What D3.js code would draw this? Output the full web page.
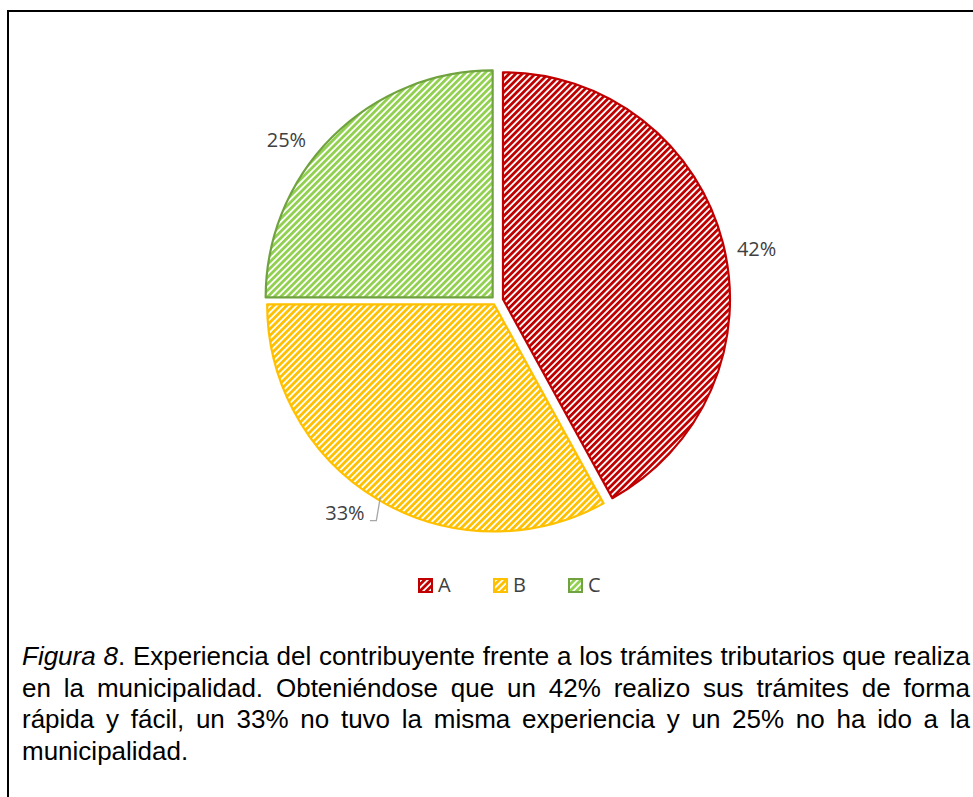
<!DOCTYPE html>
<html>
<head>
<meta charset="utf-8">
<script src="https://cdn.jsdelivr.net/npm/d3@7"></script>
<style>
  body { margin: 0; background: #fff; }
  svg { display: block; }
</style>
</head>
<body>
<script>
// chart data
var categories = ["A", "B", "C"];
var values = [42, 33, 25];
var labels = ["42%", "33%", "25%"];
var caption = [
  "Figura 8. Experiencia del contribuyente frente a los trámites tributarios que realiza",
  "en la municipalidad. Obteniéndose que un 42% realizo sus trámites de forma",
  "rápida y fácil, un 33% no tuvo la misma experiencia y un 25% no ha ido a la",
  "municipalidad."
];

// styles
var stripe = ["#c00000", "#ffc000", "#92d050"];
var edge = ["#c00000", "#ffc000", "#70a33f"];
var explode = [7, 4, 5];
var labelNudge = [[2.8, 14.2], [-17.4, -14.7], [-23.1, 25.1]];

var W = 973, H = 797;
var cx = 496.2, cy = 301, r = 227;

var svg = d3.select("body").append("svg")
  .attr("width", W)
  .attr("height", H);

// frame (only top + left visible)
svg.append("path")
  .attr("d", "M8," + H + "V11H" + W)
  .attr("fill", "none")
  .attr("stroke", "#000")
  .attr("stroke-width", 2);

// stripe patterns
var defs = svg.append("defs");
stripe.forEach(function(c, i) {
  var p = defs.append("pattern")
    .attr("id", "pat" + i)
    .attr("patternUnits", "userSpaceOnUse")
    .attr("width", 4.6)
    .attr("height", 4.6)
    .attr("patternTransform", "rotate(45)");
  p.append("rect").attr("width", 4.6).attr("height", 4.6).attr("fill", "#fff");
  p.append("rect").attr("width", 2.8).attr("height", 4.6).attr("fill", c);
});

var pie = d3.pie().sort(null).value(function(d) { return d; });
var arcs = pie(values);
var arc = d3.arc().innerRadius(0).outerRadius(r);
var labelArc = d3.arc().innerRadius(259).outerRadius(259);

function offset(d, i) {
  var mid = (d.startAngle + d.endAngle) / 2;
  return [cx + Math.sin(mid) * explode[i], cy - Math.cos(mid) * explode[i]];
}

var g = svg.append("g");
g.selectAll("path.slice")
  .data(arcs)
  .enter()
  .append("path")
  .attr("class", "slice")
  .attr("transform", function(d, i) { return "translate(" + offset(d, i) + ")"; })
  .attr("d", arc)
  .attr("fill", function(d, i) { return "url(#pat" + i + ")"; })
  .attr("stroke", function(d, i) { return edge[i]; })
  .attr("stroke-width", 2.2)
  .attr("stroke-linejoin", "round");

// data labels
var pos = arcs.map(function(d, i) {
  var o = offset(d, i), c = labelArc.centroid(d);
  return [o[0] + c[0] + labelNudge[i][0], o[1] + c[1] + labelNudge[i][1]];
});

svg.selectAll("text.lbl")
  .data(arcs)
  .enter()
  .append("text")
  .attr("class", "lbl")
  .attr("x", function(d, i) { return pos[i][0]; })
  .attr("y", function(d, i) { return pos[i][1]; })
  .attr("dy", "0.36em")
  .attr("text-anchor", "middle")
  .style("font-family", "'Open Sans', sans-serif")
  .style("font-size", "20px")
  .style("fill", "#404040")
  .text(function(d, i) { return labels[i]; });

// leader line for B
var bO = offset(arcs[1], 1), bC = arc.centroid(arcs[1]);
var bEdge = [bO[0] + bC[0] * 2 * 0.985, bO[1] + bC[1] * 2 * 0.985];
svg.append("path")
  .attr("d", "M" + (pos[1][0] + 25) + "," + (pos[1][1] + 8) +
    "H" + (bEdge[0] - 4) + "L" + bEdge[0] + "," + bEdge[1])
  .attr("fill", "none")
  .attr("stroke", "#a6a6a6")
  .attr("stroke-width", 1.3);

// legend
var leg = svg.append("g").attr("transform", "translate(418,578)");
var item = leg.selectAll("g")
  .data(categories)
  .enter()
  .append("g")
  .attr("transform", function(d, i) { return "translate(" + (i * 75) + ",0)"; });
item.append("rect")
  .attr("x", 1).attr("y", 1)
  .attr("width", 13).attr("height", 13)
  .attr("fill", function(d, i) { return "url(#pat" + i + ")"; })
  .attr("stroke", function(d, i) { return edge[i]; })
  .attr("stroke-width", 2);
item.append("text")
  .attr("x", 20)
  .attr("y", 14)
  .style("font-family", "'Open Sans', sans-serif")
  .style("font-size", "20px")
  .style("fill", "#404040")
  .text(function(d) { return d; });

// caption, justified
var left = 22, right = 970, fs = 26;
caption.forEach(function(line, li) {
  var words = line.split(" ");
  var row = svg.append("g");
  var y = 665 + li * 31.7;
  var nodes = words.map(function(w, wi) {
    var t = row.append("text")
      .attr("y", y)
      .style("font-family", "Arial, 'Liberation Sans', sans-serif")
      .style("font-size", fs + "px")
      .style("fill", "#000");
    if (li === 0 && wi === 0) {
      t.style("font-style", "italic").text(w);
    } else if (li === 0 && wi === 1) {
      t.append("tspan").style("font-style", "italic").text("8");
      t.append("tspan").text(".");
    } else {
      t.text(w);
    }
    return t;
  });
  var widths = nodes.map(function(t) { return t.node().getComputedTextLength(); });
  var total = d3.sum(widths);
  var last = li === caption.length - 1;
  var gap = last ? fs * 0.278 : (right - left - total) / (words.length - 1);
  var x = left;
  nodes.forEach(function(t, i) {
    t.attr("x", x);
    x += widths[i] + gap;
  });
});
</script>
</body>
</html>
